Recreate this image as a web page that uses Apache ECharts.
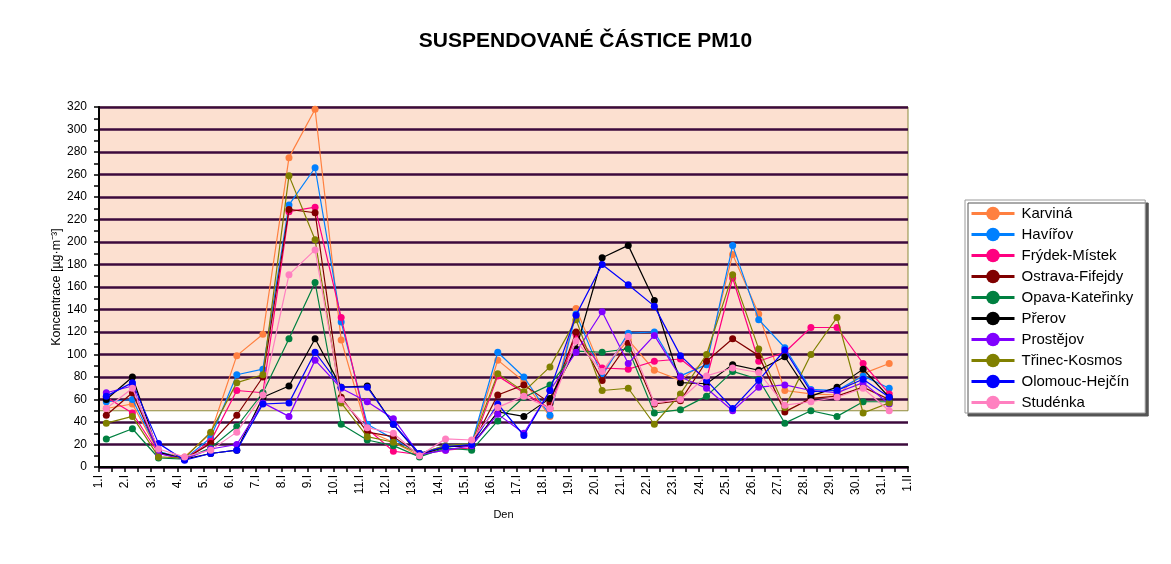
<!DOCTYPE html>
<html>
<head>
<meta charset="utf-8">
<script src="https://cdn.jsdelivr.net/npm/echarts@6/dist/echarts.min.js"></script>
<style>
html,body{margin:0;padding:0;background:#fff;}
#chart{width:1171px;height:564px;}
</style>
</head>
<body>
<div id="chart"></div>
<script>
// ---- data ----
const xLabels = ['1.I','2.I','3.I','4.I','5.I','6.I','7.I','8.I','9.I','10.I','11.I','12.I','13.I','14.I','15.I','16.I','17.I','18.I','19.I','20.I','21.I','22.I','23.I','24.I','25.I','26.I','27.I','28.I','29.I','30.I','31.I','1.II'];
const stations = ['Karviná','Havířov','Frýdek-Místek','Ostrava-Fifejdy','Opava-Kateřinky','Přerov','Prostějov','Třinec-Kosmos','Olomouc-Hejčín','Studénka'];
const karvina   = [52,56,13,9,30,99,118,275,318,113,32,22,10,18,20,95,76,45,141,85,113,86,77,95,189,136,68,65,64,83,92];
const havirov   = [58,60,14,7,26,82,87,233,266,129,38,25,12,19,21,102,80,46,136,81,119,120,81,91,197,131,106,69,68,81,70];
const frydek    = [62,48,12,7,23,68,66,227,231,133,34,14,11,15,17,81,66,52,118,88,87,94,96,78,168,94,102,124,124,92,65];
const ostrava   = [46,66,13,7,21,46,80,229,226,62,31,27,11,18,19,64,73,57,120,77,110,56,59,94,114,99,49,61,63,71,60];
const opava     = [25,34,8,7,17,36,66,114,164,38,24,19,9,17,15,41,62,73,103,102,105,48,51,63,85,78,39,50,45,58,58];
const prerov    = [60,80,13,7,12,15,62,72,114,71,72,38,11,18,19,49,45,61,105,186,197,148,75,74,91,86,98,63,71,87,62];
const prostejov = [66,72,12,7,16,20,57,45,95,70,58,43,11,15,19,47,30,68,102,138,92,117,80,70,50,71,73,68,66,75,56];
const trinec    = [39,45,9,8,31,75,82,259,202,57,27,22,12,19,21,83,67,89,131,68,70,38,65,100,171,105,53,100,133,48,57];
const olomouc   = [63,75,21,6,12,15,56,57,102,71,71,38,12,18,20,56,28,68,135,180,162,143,99,77,52,77,104,67,68,78,62];
const studenka  = [52,70,16,9,15,31,64,171,193,60,35,30,10,25,24,53,63,52,112,85,116,57,60,81,88,84,55,58,62,70,50];
const seriesValues = [karvina,havirov,frydek,ostrava,opava,prerov,prostejov,trinec,olomouc,studenka];
const limitValue = 50;
const yMax = 320;

// ---- styles ----
const colors = ['#FF8040','#0080FF','#FF0080','#800000','#008040','#000000','#8000FF','#808000','#0000FF','#FF80C0'];
const FONT = '"Liberation Sans", Arial, sans-serif';
const POINT_OFFSET = 0.28;

const chart = echarts.init(document.getElementById('chart'), null, {renderer:'canvas'});

const series = stations.map((name, k) => ({
  name: name,
  type: 'line',
  data: seriesValues[k].map((v, i) => [i + POINT_OFFSET, v]),
  symbol: 'circle',
  symbolSize: 7,
  showSymbol: true,
  animation: false,
  lineStyle: {width: 1.2, color: colors[k]},
  itemStyle: {color: colors[k]},
  z: 3 + k * 0.01
}));

// background band above the limit value
series.push({
  name: 'band',
  type: 'line',
  data: [],
  silent: true,
  animation: false,
  markArea: {
    z: -1,
    silent: true,
    animation: false,
    itemStyle: {color: '#FCE0D0', borderColor: '#8C8C3C', borderWidth: 1},
    data: [[{xAxis: 0, yAxis: limitValue}, {xAxis: xLabels.length - 1, yAxis: yMax}]]
  }
});

chart.setOption({
  backgroundColor: '#fff',
  animation: false,
  title: {
    text: 'SUSPENDOVANÉ ČÁSTICE PM10',
    left: 'center',
    top: 26,
    textStyle: {fontFamily: FONT, fontSize: 21, fontWeight: 'bold', color: '#000'}
  },
  color: colors,
  legend: {
    data: stations,
    orient: 'vertical',
    left: 965,
    top: 200,
    itemWidth: 43,
    itemHeight: 17,
    itemGap: 6,
    padding: [6, 12, 3, 5],
    backgroundColor: '#fff',
    borderColor: '#9a9a9a',
    borderWidth: 1,
    shadowColor: '#555',
    shadowBlur: 0,
    shadowOffsetX: 3,
    shadowOffsetY: 3,
    lineStyle: {width: 3},
    textStyle: {fontFamily: FONT, fontSize: 15, color: '#000', padding: [0,0,0,2]}
  },
  grid: {left: 99, right: 263, top: 107, bottom: 97, containLabel: false},
  xAxis: {
    type: 'value',
    min: 0,
    max: xLabels.length - 1,
    interval: 1,
    name: 'Den',
    nameLocation: 'middle',
    nameGap: 42,
    nameMoveOverlap: false,
    nameTextStyle: {fontFamily: FONT, fontSize: 11, color: '#000'},
    axisLine: {show: true, onZero: false, lineStyle: {color: '#000', width: 2}},
    axisTick: {show: true, length: 5, lineStyle: {color: '#000', width: 1.5}},
    minorTick: {show: true, splitNumber: 2, length: 5, lineStyle: {color: '#000', width: 1.5}},
    splitLine: {show: false},
    axisLabel: {
      rotate: 90,
      fontFamily: FONT, fontSize: 12, color: '#000',
      margin: 8,
      formatter: v => xLabels[Math.round(v)] || ''
    }
  },
  yAxis: {
    type: 'value',
    min: 0,
    max: yMax,
    interval: 20,
    name: 'Koncentrace [µg·m⁻³]',
    nameLocation: 'middle',
    nameGap: 36,
    nameMoveOverlap: false,
    nameTextStyle: {fontFamily: FONT, fontSize: 12.5, color: '#000'},
    axisLine: {show: true, lineStyle: {color: '#000', width: 2}},
    axisTick: {show: true, length: 5, lineStyle: {color: '#000', width: 1.5}},
    minorTick: {show: true, splitNumber: 2, length: 5, lineStyle: {color: '#000', width: 1.5}},
    splitLine: {show: true, lineStyle: {color: '#3C0A3C', width: 2.5}},
    axisLabel: {fontFamily: FONT, fontSize: 12, color: '#000', margin: 12}
  },
  series: series
});
</script>
</body>
</html>
